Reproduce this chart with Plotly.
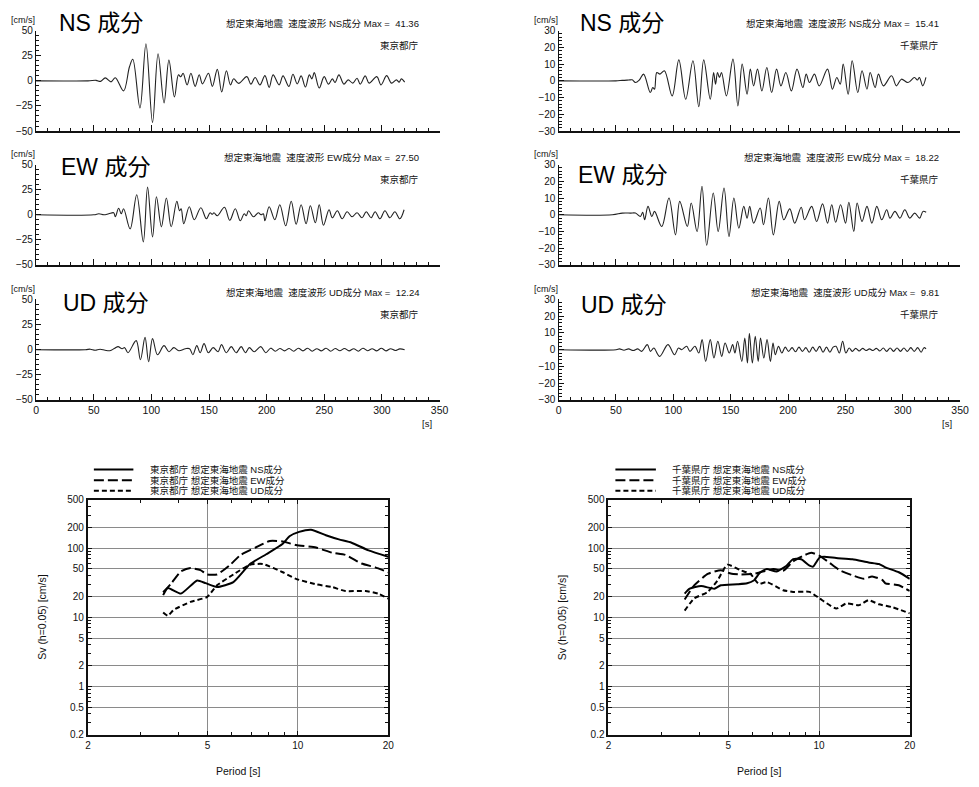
import plotly.graph_objects as go

# ---------------- velocity waveforms (time [s], velocity [cm/s]) ----------------
# 東京都庁
tk_ns_t = [0, 45, 52, 56, 60, 65, 68.7, 75.9, 81, 83.9, 90.1, 95.3, 101, 105.8, 111, 115.2, 120, 123.5, 125.5, 127.5,
           131, 134.3, 138, 141.5, 144.3, 149.5, 152.9, 157.2, 161, 165.1, 168.6, 171.4, 175.7, 182.8, 186.3, 190,
           194.2, 198.5, 202.2, 205.6, 210.8, 214.2, 219.3, 222.8, 226.5, 229.9, 233.6, 237, 239.3, 241.3, 245.6,
           249.9, 253.6, 257, 259.3, 262.7, 267, 270.7, 274.7, 278.4, 281.2, 285.5, 288.9, 295.5, 299.2, 304.1,
           308.3, 312.6, 314.9, 316.9, 319.7]
tk_ns_v = [0, 0, 0.5, -0.5, 3, -1, 3, -10, 14, 21.5, -27, 37, -41.36, 27, -22, 20.6, -16, 6, 4, 7.5,
           -4, 7.5, -5.5, 6, -3, 7.5, -5.5, 11.4, -11, 10, -4, 2, -2.5, 4.2, -3.3, 3.3,
           -4, 5.2, -6.5, 5.9, -4, 4.9, -5.6, 6.5, -3, 4.9, -6.2, 5.9, 2, 8.2, -7.2,
           4.2, -3.3, 2, -1.6, 5.9, -3.3, 1, -2.3, 2.6, -3.3, 4.9, -2.3, 4.2, -4, 5.2,
           -2.3, 1, -1.3, 2, -1.3]

tk_ew_t = [0, 50, 54.5, 58.8, 63, 67.3, 68.7, 71.6, 73.9, 75.9, 81.6, 87.3, 93, 96.7, 101, 104.4, 108.7, 113, 117.2,
           122.1, 124.4, 125.8, 128.1, 132.9, 137.2, 142.9, 147.7, 150.9, 152.9, 154.3, 157.2, 163.4, 168, 172.8,
           177.1, 180.5, 182.3, 184.3, 188.6, 192.8, 195.1, 197.1, 198.5, 202.2, 207.1, 211.4, 216.5, 221.3, 225.6,
           229.9, 234.2, 237.9, 242.2, 245.6, 249.3, 254.1, 257, 261.3, 265.5, 269.8, 274.1, 278.4, 282.7, 286.4,
           290.6, 294.1, 298.3, 302.6, 306.9, 311.2, 315.5, 319.2]
tk_ew_v = [0, 0, 1, 0, 1, 2, -2, 6.5, 1, 6, -14, 20, -27, 27.5, -22, 18, -12, 16.7, -12,
           13.4, 4, 6, -9, 8, -5, 7, -4, 2, 0.5, 2, -1, 7.5, -5.5, 6,
           -6, 1, -1, 4, -2, 2, 0, 1, -6, 8, -5, 10, -11, 13.4, -9.5,
           10, -9, 9, -8, 10, -10.5, 5, -3, 4, -4, 3, -2, 2, -3, 3,
           -3, 3, -4, 4, -3, 3, -4, 5]

tk_ud_t = [0, 42.7, 47, 51.2, 55.5, 59.8, 64, 68.3, 71.1, 74.6, 76.8, 79.7, 86.8, 90.5, 94.5, 97.6, 101, 105.3,
           111, 115.3, 119.5, 123.8, 129.5, 133.2, 136, 139.4, 142.3, 145.7, 149.4, 153.6, 157.9, 160.8, 165,
           169.3, 173.6, 177.9, 181.6, 185, 189.2, 194.9, 199.2, 203.5, 207.5, 211.5, 215.5, 219.5, 223.5, 227.5,
           231.5, 235.5, 239.5, 243.5, 247.5, 251.5, 255.5, 259.5, 263.5, 267.5, 271.5, 275.5, 279.5, 283.5,
           287.5, 291.5, 295.5, 299.5, 303.5, 307.5, 311.5, 315.5, 319.7]
tk_ud_v = [0, 0, 0.5, -0.5, 0.5, -0.5, -1, 1.5, 3, 1, 2, -3, 9, -10, 12.24, -12, 11, -5,
           4, -2, 2, -1, 1, 1, -5, 4, -3, 6, -3, 2, -2, 5, -3,
           3, -3, 3, -3, 2, -2, 3, -3, 1.5, -1.5, 1.2, -1.2, 1.2, -1.5, 1.5,
           -1.2, 1.5, -1.5, 1, -1.2, 1.5, -1.5, 1.2, -1, 1.2, -1.2, 1, -1.5, 1.5,
           -1, 1, -1.2, 1.5, -1.2, 1, -0.8, 0.8, 0]

# 千葉県庁
cb_ns_t = [0, 49.8, 55.5, 61.2, 64.1, 67, 70.4, 74.1, 79.9, 82.1, 83.6, 85.6, 88.4, 92.2, 99, 104.8, 110.8, 117.1,
           122.2, 126.5, 132.2, 135.1, 136.8, 138.5, 140.2, 142, 146.3, 152, 156.3, 160, 164.3, 167.1, 170, 173.4,
           177.2, 181.5, 185.7, 190, 193.8, 198.1, 202.9, 207.8, 212.9, 215.8, 218.7, 223, 227.2, 234.4, 238.7,
           242.5, 245.5, 248.1, 252.4, 255.9, 260.8, 264.5, 268.8, 271.6, 275.9, 278.8, 283.1, 290.2, 294.5,
           298.8, 304.5, 310.2, 312.7, 314.5, 317.4, 320.2]
cb_ns_v = [0, 0, 0.3, 0.5, 0.6, -1, 0.5, 4, -7, -4, -5, 5, 4, 6, -9, 12.5, -11, 12,
           -15.41, 12.5, -11, 5, -2, 5, 2, 5, -9, 13, -15, 10, -8, 7, -3, 7,
           -6, 8, -7, 7, -3, 5, -6, 7, -4, 4, -1, 4, -3, 7, -5,
           2, -2, 10, -8, 12, -7, 6, -5, 5, -4, 4, -3, 3, -3,
           1, -1, 2, 0.5, 2, -3, 2]

cb_ew_t = [0, 46.9, 55.5, 62.7, 67, 71.3, 73.3, 75, 77.9, 81.3, 83.6, 89.9, 96.2, 101.9, 105.6, 112.2, 115.6, 120.7,
           125, 129.1, 134.8, 139.1, 144.2, 148.5, 152.8, 157.1, 161.4, 164.3, 166.6, 170, 175.7, 178.6, 182.9,
           187.2, 192.3, 196.3, 201.5, 205.8, 211.5, 214.4, 220.6, 224.9, 230.1, 234.4, 238.1, 241.5, 245.8,
           250.1, 253, 257.3, 260.2, 264.5, 268.8, 273.1, 277.4, 281.7, 286, 288.9, 293.2, 297.5, 301.8, 306.1,
           310.4, 314.7, 317.6, 320.4]
cb_ew_v = [0, 0, 1, 1, 1, -1, 1.5, -3, 5, -1, 2, -7, 10, -12, 8, -7, 7, -10,
           17, -18.22, 13, -10, 16, -13, 10, -8, 5, -2, 5, -5, 4, -6, 10,
           -12, 8, -3, 3.5, -5, 4.5, -3, 5, -4, 6.5, -5, 6, -4.5, 6,
           -5, 7.5, -10, 7, -4, 5, -5, 5, -3, 3, -2, 2, -2, 3, -2,
           1, -2, 2, 1.5]

cb_ud_t = [0, 50.1, 53, 57, 61, 65, 69, 72.4, 77.3, 80.1, 83, 88.1, 95.3, 101, 104.5, 107.3, 111.6, 114.5, 118.8,
           122.2, 125.1, 128.2, 132.2, 135.4, 138.8, 142.2, 145.1, 148.8, 151.7, 153.7, 156, 159.7, 162.3, 164.6,
           166.3, 168.9, 171.4, 174, 176, 178.9, 181.7, 184.6, 186.9, 188.9, 191.7, 194.6, 197.5, 200.5, 203.5,
           206.5, 209.5, 212.5, 215.5, 218.5, 221.5, 224.5, 227.5, 230.5, 233.5, 236.5, 239.3, 241.8, 244.7,
           247.6, 250.4, 253.3, 256, 259, 262, 265, 268, 271, 274, 277, 280, 283, 286, 289, 292, 295, 298, 301,
           304, 307, 310, 313, 316, 318.5, 320.3]
cb_ud_v = [0, 0, 0.5, -0.3, 0.5, -0.5, 0.5, -1, 3, -1, 1, -4, 3, -3, 1, 0, 2, -1, 2,
           -2, 6, -7, 6, -5, 5, -4, 4, -2, 3, -2, 5, -7, 7, -8,
           9.81, -8, 8, -7, 7, -5, 6, -7, 4, -3, 2, -2, 1.5, -1, 1.2,
           -1.2, 1.5, -1, 1.2, -1.5, 1.5, -1, 2, -1.5, 1.5, -1.5, 1.5, 2, -2,
           5, -2, 1, -1, 0.8, -0.8, 0.8, -0.5, 0.5, -0.5, 0.8, -0.8, 1, -1, 1, -1, 1, -1, 1,
           -1, 1.2, -1, 1.2, -1.5, 1.2, 0.5]

# ---------------- velocity response spectra Sv (h=0.05) [cm/s] ----------------
tk_sp_ns_T = [3.56, 3.69, 4.08, 4.62, 4.93, 5.38, 6.1, 6.93, 7.85, 8.91, 9.38, 10.1, 11.06, 12.4, 13.7, 15.1, 17.2, 20]
tk_sp_ns_v = [20.9, 26.5, 22, 34.1, 31.2, 27.4, 32.3, 58.9, 81.7, 116, 149, 172, 185, 154, 134, 120, 93, 75]
tk_sp_ew_T = [3.56, 3.78, 4.08, 4.39, 4.74, 4.99, 5.38, 5.96, 6.43, 7.29, 8.07, 8.91, 9.86, 11.5, 13.0, 14.4, 16.3,
              18.1, 20]
tk_sp_ew_v = [23, 30.5, 46, 51.6, 48, 41.6, 41.6, 57.7, 79, 104, 127, 125, 111, 102, 86, 80, 60, 52.8, 44.8]
tk_sp_ud_T = [3.56, 3.69, 3.86, 4.39, 4.99, 5.38, 6.1, 6.93, 7.66, 8.91, 9.86, 11.5, 13.0, 14.4, 16.8, 18.5, 20]
tk_sp_ud_v = [11.7, 10.5, 12.8, 16.7, 19.7, 29, 41.6, 57.7, 59, 44.8, 36, 30, 27.4, 24, 24, 22, 18.7]

cb_sp_ns_T = [3.58, 3.72, 4.06, 4.49, 4.72, 5.35, 5.77, 6.07, 6.38, 6.71, 7.23, 7.8, 8.2, 8.73, 9.3, 9.55, 10.04,
              10.4, 11.4, 12.9, 14.6, 15.8, 16.6, 18.4, 20]
cb_sp_ns_v = [22, 25.9, 28.3, 25.9, 29, 30, 31, 34, 44.8, 49.9, 46, 55.8, 69.4, 69, 55.8, 54, 73.3,
              75, 72, 69, 62.2, 59, 52.8, 44.8, 36]
cb_sp_ew_T = [3.58, 3.85, 4.27, 4.72, 5.09, 5.48, 6.07, 6.38, 7.06, 7.6, 8.2, 8.85, 9.42, 10.04, 10.8, 11.7, 12.9,
              14.1, 15.0, 16.2, 16.6, 18.4, 20]
cb_sp_ew_v = [18.1, 29, 42.4, 48, 43, 41.6, 42.4, 44.8, 49.9, 47, 64.3, 77.5, 86, 77.5, 62, 48, 40.5,
              36, 39, 34.8, 31, 29, 24]
cb_sp_ud_T = [3.58, 3.85, 4.27, 4.6, 4.96, 5.48, 5.92, 6.3, 6.71, 7.6, 8.2, 9.3, 10.04, 11.4, 12.3, 13.6, 14.6,
              15.8, 17.5, 20]
cb_sp_ud_v = [12.5, 18.7, 23.3, 34, 57.7, 48, 42.4, 30.5, 32.3, 24.6, 23.3, 23.3, 18.7, 13.4, 15.8, 15, 17.7,
              15.4, 14, 11.4]

stations = ["東京都庁", "千葉県庁"]
components = ["NS", "EW", "UD"]
waves = [
    [(tk_ns_t, tk_ns_v), (tk_ew_t, tk_ew_v), (tk_ud_t, tk_ud_v)],
    [(cb_ns_t, cb_ns_v), (cb_ew_t, cb_ew_v), (cb_ud_t, cb_ud_v)],
]
spectra = [
    [(tk_sp_ns_T, tk_sp_ns_v), (tk_sp_ew_T, tk_sp_ew_v), (tk_sp_ud_T, tk_sp_ud_v)],
    [(cb_sp_ns_T, cb_sp_ns_v), (cb_sp_ew_T, cb_sp_ew_v), (cb_sp_ud_T, cb_sp_ud_v)],
]
wave_limits = [50, 30]
wave_ticks = [[-50, -25, 0, 25, 50], [-30, -20, -10, 0, 10, 20, 30]]
wave_minor = [5, 2]
sp_yticks = [0.2, 0.5, 1, 2, 5, 10, 20, 50, 100, 200, 500]
sp_xticks = [2, 5, 10, 20]
sp_yminor = [0.3, 0.4, 0.6, 0.7, 0.8, 0.9, 3, 4, 6, 7, 8, 9, 30, 40, 60, 70, 80, 90, 300, 400]
sp_xminor = [3, 4, 6, 7, 8, 9]

# ---------------- page geometry (pixels) ----------------
W, H = 979, 787
FONT = "Liberation Sans, Arial, Noto Sans CJK JP, sans-serif"
INK = "#111111"


def fx(px):
    return px / W


def fy(py):
    return 1 - py / H


wave_cols = [(33.5, 442.0), (562.5, 969.0)]
wave_rows = [(25, 127), (161, 263), (298, 400)]
title_left = [[55, 57, 59], [582, 580, 583]]
title_mid = [[17, 164, 302], [17, 172, 304]]
sp_cols = [(86, 390), (613, 918)]
sp_row = (501.5, 740)
sp_title_x = [40, 566]
legend_cols = [(92, 132, 147), (620, 661, 675)]
legend_rows = [470.7, 481.7, 492.3]
sp_dash = ["solid", "10px,4px", "5px,3px"]

fig = go.Figure()
layout = dict(
    width=W, height=H, margin=dict(l=0, r=0, t=0, b=0),
    paper_bgcolor="white", plot_bgcolor="white",
    font=dict(family=FONT, color=INK, size=11),
    showlegend=False,
)
annotations = []
shapes = []

n = 0
for s, st in enumerate(stations):
    x0, x1 = wave_cols[s]
    lim = wave_limits[s]
    for c, comp in enumerate(components):
        n += 1
        t, v = waves[s][c]
        fig.add_trace(go.Scatter(
            x=t, y=v, mode="lines", line=dict(color="#222222", width=1.1, shape="spline", smoothing=1.0),
            xaxis=f"x{n}", yaxis=f"y{n}", hoverinfo="skip",
        ))
        top, bot = wave_rows[c]
        sfx = "" if n == 1 else str(n)
        layout[f"xaxis{sfx}"] = dict(
            domain=[fx(x0), fx(x1)], range=[0, 350], anchor=f"y{n}",
            tickmode="linear", tick0=0, dtick=50, ticks="inside", ticklen=6, tickwidth=1, tickcolor=INK,
            minor=dict(dtick=10, tick0=0, ticks="inside", ticklen=3, tickcolor=INK, showgrid=False),
            showticklabels=(c == 2), tickfont=dict(size=10.5),
            showline=True, linecolor=INK, linewidth=1.6, showgrid=False, zeroline=False,
        )
        layout[f"yaxis{sfx}"] = dict(
            domain=[fy(bot), fy(top)], range=[-lim, lim], anchor=f"x{n}",
            tickmode="array", tickvals=wave_ticks[s], ticks="inside", ticklen=5, tickcolor=INK,
            minor=dict(dtick=wave_minor[s], tick0=0, ticks="inside", ticklen=3, tickcolor=INK, showgrid=False),
            tickfont=dict(size=10), showline=True, linecolor=INK, linewidth=1.4,
            showgrid=False, zeroline=False,
        )
        peak = max(abs(val) for val in v)
        annotations += [
            dict(text=f"{comp} 成分", x=fx(title_left[s][c]), y=fy(title_mid[s][c]), xref="paper", yref="paper",
                 xanchor="left", yanchor="middle", showarrow=False, font=dict(size=23, color="#000")),
            dict(text=f"想定東海地震\u00a0\u00a0速度波形 {comp}成分 Max =\u00a0\u00a0{peak:.2f}",
                 x=fx(x1 - 19), y=fy(top - 7.5), xref="paper", yref="paper",
                 xanchor="right", yanchor="middle", showarrow=False, font=dict(size=9.5)),
            dict(text=st, x=fx(x1 - 19), y=fy(top + 15), xref="paper", yref="paper",
                 xanchor="right", yanchor="middle", showarrow=False, font=dict(size=9.5)),
            dict(text="[cm/s]", x=fx(x0 + 1), y=fy(top - 11), xref="paper", yref="paper",
                 xanchor="right", yanchor="middle", showarrow=False, font=dict(size=9)),
        ]
    annotations.append(dict(text="[s]", x=fx(x1 - 13), y=fy(424), xref="paper", yref="paper",
                            xanchor="center", yanchor="middle", showarrow=False, font=dict(size=9.5)))

# response spectra
for s, st in enumerate(stations):
    n += 1
    sx0, sx1 = sp_cols[s]
    for c, comp in enumerate(components):
        T, sv = spectra[s][c]
        fig.add_trace(go.Scatter(
            x=T, y=sv, mode="lines", name=f"{st} 想定東海地震 {comp}成分",
            line=dict(color="#000", width=2, dash=sp_dash[c], shape="spline", smoothing=0.5),
            xaxis=f"x{n}", yaxis=f"y{n}", hoverinfo="skip",
        ))
        lx0, lx1, tx = legend_cols[s]
        shapes.append(dict(type="line", xref="paper", yref="paper",
                           x0=fx(lx0), x1=fx(lx1), y0=fy(legend_rows[c]), y1=fy(legend_rows[c]),
                           line=dict(color="#000", width=2, dash=sp_dash[c])))
        annotations.append(dict(text=f"{st} 想定東海地震 {comp}成分", x=fx(tx), y=fy(legend_rows[c]),
                                xref="paper", yref="paper", xanchor="left", yanchor="middle",
                                showarrow=False, font=dict(size=9.5)))
    layout[f"xaxis{n}"] = dict(
        domain=[fx(sx0), fx(sx1)], type="log", range=[0.30103, 1.30103], anchor=f"y{n}",
        tickmode="array", tickvals=sp_xticks, ticktext=[str(k) for k in sp_xticks],
        ticks="inside", ticklen=4, tickcolor=INK, tickfont=dict(size=10),
        minor=dict(tickmode="array", tickvals=sp_xminor, ticks="inside", ticklen=3, tickcolor=INK, showgrid=False),
        showgrid=True, gridcolor="#8a8a8a", gridwidth=1,
        showline=True, mirror="allticks", linecolor=INK, linewidth=2, zeroline=False,
    )
    layout[f"yaxis{n}"] = dict(
        domain=[fy(sp_row[1]), fy(sp_row[0])], type="log", range=[-0.69897, 2.69897], anchor=f"x{n}",
        tickmode="array", tickvals=sp_yticks, ticktext=[f"{k:g}" for k in sp_yticks],
        ticks="inside", ticklen=4, tickcolor=INK, tickfont=dict(size=10),
        minor=dict(tickmode="array", tickvals=sp_yminor, ticks="inside", ticklen=3, tickcolor=INK, showgrid=False),
        showgrid=True, gridcolor="#8a8a8a", gridwidth=1,
        showline=True, mirror="allticks", linecolor=INK, linewidth=2, zeroline=False,
    )
    annotations.append(dict(text="Sv (h=0.05) [cm/s]", x=fx(sp_title_x[s]), y=fy((sp_row[0] + sp_row[1]) / 2),
                            xref="paper", yref="paper", xanchor="center", yanchor="middle", textangle=-90,
                            showarrow=False, font=dict(size=10.5)))
    annotations.append(dict(text="Period [s]", x=fx((sx0 + sx1) / 2), y=fy(776.5),
                            xref="paper", yref="paper", xanchor="center", yanchor="middle",
                            showarrow=False, font=dict(size=10.5)))

layout["annotations"] = annotations
layout["shapes"] = shapes
fig.update_layout(**layout)
fig.write_html("out.html")
